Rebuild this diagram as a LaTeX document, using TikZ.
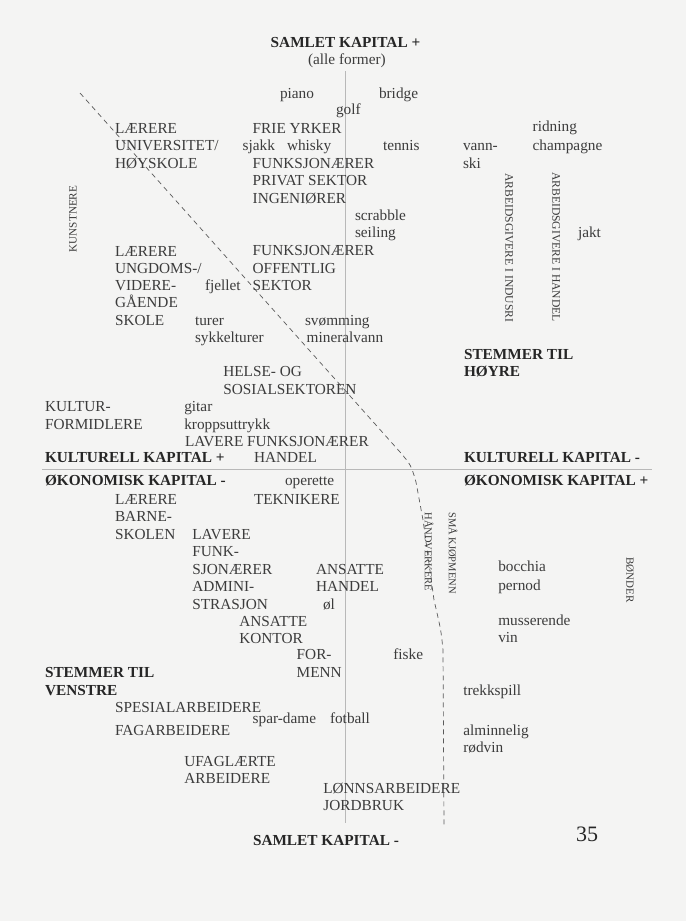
\documentclass[tikz,border=0pt]{standalone}
\usepackage{fontspec}
\setmainfont{Liberation Serif}
\definecolor{bg}{HTML}{F4F4F3}
\definecolor{txt}{HTML}{3C3C3C}
\definecolor{boldtxt}{HTML}{262626}
\definecolor{axisc}{HTML}{B8B8B8}
\definecolor{dashc}{HTML}{5A5A5A}
\begin{document}
\begin{tikzpicture}[x=1pt,y=-1pt,
  t/.style={anchor=base west,inner sep=0pt,outer sep=0pt,text=txt,font=\fontsize{15.3}{17}\selectfont},
  bt/.style={anchor=base west,inner sep=0pt,outer sep=0pt,text=boldtxt,font=\fontsize{15.3}{17}\selectfont\bfseries},
  vt/.style={anchor=center,inner sep=0pt,outer sep=0pt,text=txt},
  axisline/.style={draw=axisc,line width=0.8pt},
  dashline/.style={draw=dashc,line width=0.7pt,dash pattern=on 5pt off 4pt}]
\fill[bg] (0,0) rectangle (686,921);
% axes
\coordinate (vtop) at (345,71);
\coordinate (vbot) at (345,823);
\coordinate (hl) at (42,469);
\coordinate (hr) at (652,469);
\draw[axisline] (vtop) -- (vbot);
\draw[axisline] (hl) -- (hr);
% dashed boundary
\coordinate (d0) at (80,93);
\coordinate (d1) at (400,452);
\coordinate (d2) at (416,482);
\coordinate (d3) at (423,520);
\coordinate (d4) at (434,600);
\coordinate (d5) at (443,650);
\coordinate (d6) at (444,828);
\draw[dashline] (d0) -- (d1) .. controls (411,465) .. (d2) -- (d3) -- (d4) .. controls (441,630) .. (d5) -- (d6);
% top
\node[bt] (samtop) at (270.7,47.3) {SAMLET KAPITAL +};
\node[t] (alle) at (308,64) {(alle former)};
\node[t] (piano) at (280,98) {piano};
\node[t] (bridge) at (379,98) {bridge};
\node[t] (golf) at (336,114) {golf};
\node[t] (lae1) at (115,133) {LÆRERE};
\node[t] (univ) at (115,150.5) {UNIVERSITET/};
\node[t] (hoy) at (115,168) {HØYSKOLE};
\node[t] (frie) at (252.7,133) {FRIE YRKER};
\node[t] (sjakk) at (242.7,150.5) {sjakk};
\node[t] (whisky) at (287,150.5) {whisky};
\node[t] (tennis) at (383,150.5) {tennis};
\node[t] (vann) at (463,150.5) {vann-};
\node[t] (ski) at (463,168) {ski};
\node[t] (ridning) at (532.7,131.7) {ridning};
\node[t] (champ) at (532.7,150.5) {champagne};
\node[t] (funk1) at (252.7,168) {FUNKSJONÆRER};
\node[t] (priv) at (252.7,185.5) {PRIVAT SEKTOR};
\node[t] (ing) at (252.7,203) {INGENIØRER};
\node[t] (scrabble) at (355,220) {scrabble};
\node[t] (seiling) at (355,237) {seiling};
\node[t] (jakt) at (578,237) {jakt};
\node[t] (funk2) at (252.7,255.5) {FUNKSJONÆRER};
\node[t] (off) at (252.7,273) {OFFENTLIG};
\node[t] (sek) at (252.7,290) {SEKTOR};
\node[t] (lae2) at (115,256) {LÆRERE};
\node[t] (ungd) at (115,273) {UNGDOMS-/};
\node[t] (vid) at (115,290) {VIDERE-};
\node[t] (gaa) at (115,307.5) {GÅENDE};
\node[t] (skole) at (115,325) {SKOLE};
\node[t] (fjellet) at (205,290) {fjellet};
\node[t] (turer) at (195,325) {turer};
\node[t] (sykkel) at (195,342) {sykkelturer};
\node[t] (svom) at (305,325) {svømming};
\node[t] (mineral) at (306.7,342) {mineralvann};
\node[bt] (stemh) at (464,359.3) {STEMMER TIL};
\node[bt] (hoyre) at (464,376.5) {HØYRE};
\node[t] (helse) at (223.3,376.7) {HELSE- OG};
\node[t] (sosial) at (223.3,394.3) {SOSIALSEKTOREN};
\node[t] (kultur) at (45,411.7) {KULTUR-};
\node[t] (formid) at (45,429) {FORMIDLERE};
\node[t] (gitar) at (184.3,411.7) {gitar};
\node[t] (kropp) at (184.3,429) {kroppsuttrykk};
\node[t] (lavf) at (185,446.7) {LAVERE FUNKSJONÆRER};
\node[bt] (kkp) at (45,462.7) {KULTURELL KAPITAL +};
\node[t] (handel1) at (254,462.7) {HANDEL};
\node[bt] (kkm) at (464,462.7) {KULTURELL KAPITAL -};
\node[bt] (okm) at (45,485) {ØKONOMISK KAPITAL -};
\node[t] (operette) at (285,485) {operette};
\node[bt] (okp) at (464,485) {ØKONOMISK KAPITAL +};
% bottom half
\node[t] (lae3) at (115,504) {LÆRERE};
\node[t] (tekn) at (254,504) {TEKNIKERE};
\node[t] (barne) at (115,521.5) {BARNE-};
\node[t] (skolen) at (115,539) {SKOLEN};
\node[t] (laver) at (192.3,539) {LAVERE};
\node[t] (funkd) at (192.3,556.5) {FUNK-};
\node[t] (sjon) at (192.3,574) {SJONÆRER};
\node[t] (ansh) at (316,574) {ANSATTE};
\node[t] (admin) at (192.3,591.5) {ADMINI-};
\node[t] (handel2) at (316,591.5) {HANDEL};
\node[t] (strasjon) at (192.3,609) {STRASJON};
\node[t] (ol) at (323,609) {øl};
\node[t] (ansk) at (239.3,626) {ANSATTE};
\node[t] (kontor) at (239.3,643.3) {KONTOR};
\node[t] (for) at (296.7,659.5) {FOR-};
\node[t] (menn) at (296.7,677) {MENN};
\node[t] (fiske) at (393.3,659.5) {fiske};
\node[t] (bocchia) at (498.3,571.7) {bocchia};
\node[t] (pernod) at (498.3,590) {pernod};
\node[t] (muss) at (498.3,625) {musserende};
\node[t] (vin) at (498.3,642) {vin};
\node[bt] (stemv) at (45,677.7) {STEMMER TIL};
\node[bt] (venstre) at (45,695) {VENSTRE};
\node[t] (trekk) at (463.3,695) {trekkspill};
\node[t] (spes) at (115,712.7) {SPESIALARBEIDERE};
\node[t] (spar) at (252.7,723.3) {spar-dame};
\node[t] (fotball) at (330,723.3) {fotball};
\node[t] (fag) at (115,735.7) {FAGARBEIDERE};
\node[t] (almin) at (463.3,735) {alminnelig};
\node[t] (rodvin) at (463.3,752) {rødvin};
\node[t] (ufag) at (184.3,766.7) {UFAGLÆRTE};
\node[t] (arb) at (184.3,783.3) {ARBEIDERE};
\node[t] (lonn) at (323.3,793.3) {LØNNSARBEIDERE};
\node[t] (jord) at (323.3,810.5) {JORDBRUK};
\node[bt] (sambot) at (253,845) {SAMLET KAPITAL -};
\node[t,font=\fontsize{22}{24}\selectfont,text=boldtxt] (page) at (576,841.7) {35};
% vertical labels
\node[vt,rotate=90,font=\fontsize{11.2}{12}\selectfont] (kunst) at (73,219) {KUNSTNERE};
\node[vt,rotate=-90,font=\fontsize{11.6}{12}\selectfont] (arbind) at (509,248) {ARBEIDSGIVERE I INDUSRI};
\node[vt,rotate=-90,font=\fontsize{11.6}{12}\selectfont] (arbhan) at (556,247) {ARBEIDSGIVERE I HANDEL};
\node[vt,rotate=-90,font=\fontsize{10.5}{12}\selectfont] (hand) at (429,552) {HÅNDVERKERE};
\node[vt,rotate=-90,font=\fontsize{10.5}{12}\selectfont] (smaa) at (453,553) {SMÅ KJØPMENN};
\node[vt,rotate=-90,font=\fontsize{11}{12}\selectfont] (bond) at (630,580) {BØNDER};
\end{tikzpicture}
\end{document}
